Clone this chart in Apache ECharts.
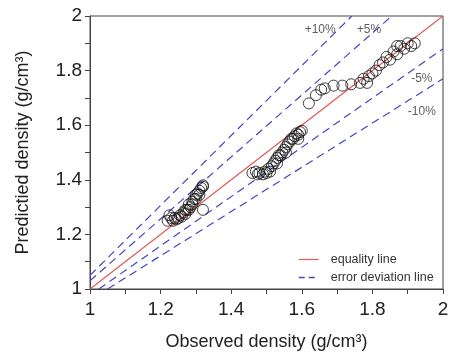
<!DOCTYPE html>
<html lang="en">
<head>
	<meta charset="UTF-8">
	<title>Density</title>
	<style type="text/css">
	html, body { margin: 0; padding: 0; background: #fff; }
	.chart { width: 452px; height: 356px; }
	</style>
</head>
<body>
	<div class="chart"></div>
	<script type="text/javascript" src="https://cdn.jsdelivr.net/npm/echarts@6/dist/echarts.min.js"></script>
	<script type="text/javascript">

		// observed / predicted pairs, three groups
		var observed = [
			1.22, 1.225, 1.23, 1.235, 1.24, 1.245, 1.25, 1.255, 1.26, 1.265, 1.27, 1.275, 1.28, 1.285, 1.29, 1.29, 1.295, 1.30, 1.30, 1.305, 1.31, 1.31, 1.315, 1.32, 1.32, 1.28, 1.27, 1.32,
			1.46, 1.47, 1.475, 1.48, 1.49, 1.495, 1.50, 1.505, 1.51, 1.515, 1.52, 1.525, 1.53, 1.535, 1.54, 1.545, 1.55, 1.555, 1.56, 1.565, 1.57, 1.575, 1.58, 1.585, 1.59, 1.595, 1.60, 1.59, 1.555, 1.53,
			1.62, 1.64, 1.655, 1.665, 1.69, 1.715, 1.74, 1.765, 1.775, 1.785, 1.79, 1.80, 1.81, 1.82, 1.83, 1.84, 1.85, 1.86, 1.87, 1.88, 1.89, 1.90, 1.91, 1.92, 1.87
		];
		var predicted = [
			1.25, 1.27, 1.26, 1.25, 1.26, 1.255, 1.26, 1.27, 1.265, 1.28, 1.275, 1.29, 1.29, 1.30, 1.31, 1.32, 1.33, 1.33, 1.345, 1.35, 1.36, 1.345, 1.37, 1.375, 1.38, 1.31, 1.29, 1.29,
			1.425, 1.43, 1.42, 1.425, 1.42, 1.43, 1.425, 1.44, 1.43, 1.45, 1.46, 1.47, 1.48, 1.49, 1.49, 1.50, 1.51, 1.52, 1.53, 1.54, 1.55, 1.55, 1.56, 1.57, 1.565, 1.575, 1.58, 1.55, 1.50, 1.46,
			1.68, 1.71, 1.73, 1.735, 1.745, 1.745, 1.75, 1.755, 1.77, 1.755, 1.78, 1.79, 1.80, 1.82, 1.83, 1.85, 1.84, 1.87, 1.86, 1.89, 1.88, 1.90, 1.89, 1.90, 1.89
		];

		// deviation lines: [x1, y1, x2, y2]
		var devLines = [
			[1, 1.05, 1.742, 2],
			[1, 1.03, 1.855, 2],
			[1.025, 1, 2, 1.88],
			[1.05, 1, 2, 1.77]
		];
		var devText = ['+10%', '+5%', '-5%', '-10%'];
		var devTextPos = [[1.652, 1.95], [1.79, 1.95], [1.94, 1.77], [1.94, 1.65]];

		var chart = echarts.init(document.getElementsByClassName("chart")[0]);

		function pairs (xs, ys) {
			var arr = [];
			xs.forEach(function (x, i) {
				arr.push([x, ys[i]]);
			});
			return arr;
		}

		// label every other tick (0.2 step), keep minor ticks bare
		function tickLabel (v) {
			var t = Math.round(v * 10);
			return t % 2 === 0 ? String(+v.toFixed(1)) : '';
		}

		var font = 'Liberation Sans, Arial, sans-serif';
		var axisColor = '#444';
		var red = '#e25858';
		var blue = '#4545c8';

		var series = [{
			name: 'equality line',
			type: 'line',
			symbol: 'none',
			data: [[1, 1], [2, 2]],
			lineStyle: { color: red, width: 1.2 },
			itemStyle: { color: red },
			z: 3
		}];

		devLines.forEach(function (l) {
			series.push({
				name: 'error deviation line',
				type: 'line',
				symbol: 'none',
				data: [[l[0], l[1]], [l[2], l[3]]],
				lineStyle: { color: blue, width: 1.2, type: [8, 5] },
				itemStyle: { color: blue },
				z: 2
			});
		});

		series.push({
			type: 'scatter',
			symbol: 'circle',
			symbolSize: 11,
			data: pairs(observed, predicted),
			itemStyle: { color: 'rgba(0,0,0,0)', borderColor: '#111', borderWidth: 1 },
			z: 4
		});

		series.push({
			type: 'scatter',
			symbolSize: 0,
			data: devTextPos.map(function (p, i) {
				return { value: p, label: { formatter: devText[i] } };
			}),
			label: {
				show: true,
				position: 'inside',
				color: '#333',
				fontSize: 12,
				fontFamily: font
			},
			silent: true,
			z: 5
		});

		var option = {
			animation: false,
			grid: {
				left: 90, right: 9, top: 16, bottom: 64,
				show: true, borderColor: axisColor, borderWidth: 1
			},
			legend: {
				orient: 'vertical',
				left: 293, top: 248,
				itemWidth: 20, itemHeight: 10,
				itemGap: 5,
				itemStyle: { opacity: 0 },
				data: [
					{ name: 'equality line', lineStyle: { color: red, width: 1.2 } },
					{ name: 'error deviation line', lineStyle: { color: blue, width: 1.5, type: [6, 4] } }
				],
				textStyle: { fontSize: 12.5, color: '#333', fontFamily: font, padding: [0, 0, 0, 7] }
			},
			xAxis: {
				type: 'value', min: 1, max: 2, interval: 0.1,
				name: 'Observed density (g/cm³)',
				nameLocation: 'middle', nameGap: 44,
				nameTextStyle: { fontSize: 18, color: '#222', fontFamily: font },
				axisLine: { lineStyle: { color: axisColor } },
				axisTick: { inside: false, length: 5, lineStyle: { color: axisColor } },
				axisLabel: { formatter: tickLabel, fontSize: 19, color: '#222', fontFamily: font, margin: 11 },
				splitLine: { show: false }
			},
			yAxis: {
				type: 'value', min: 1, max: 2, interval: 0.1,
				name: 'Predictied density (g/cm³)',
				nameLocation: 'middle', nameGap: 58,
				nameTextStyle: { fontSize: 18, color: '#222', fontFamily: font },
				axisLine: { lineStyle: { color: axisColor } },
				axisTick: { inside: false, length: 5, lineStyle: { color: axisColor } },
				axisLabel: { formatter: tickLabel, fontSize: 19, color: '#222', fontFamily: font, margin: 8 },
				splitLine: { show: false }
			},
			series: series
		};

		chart.setOption(option);

	</script>
</body>
</html>
